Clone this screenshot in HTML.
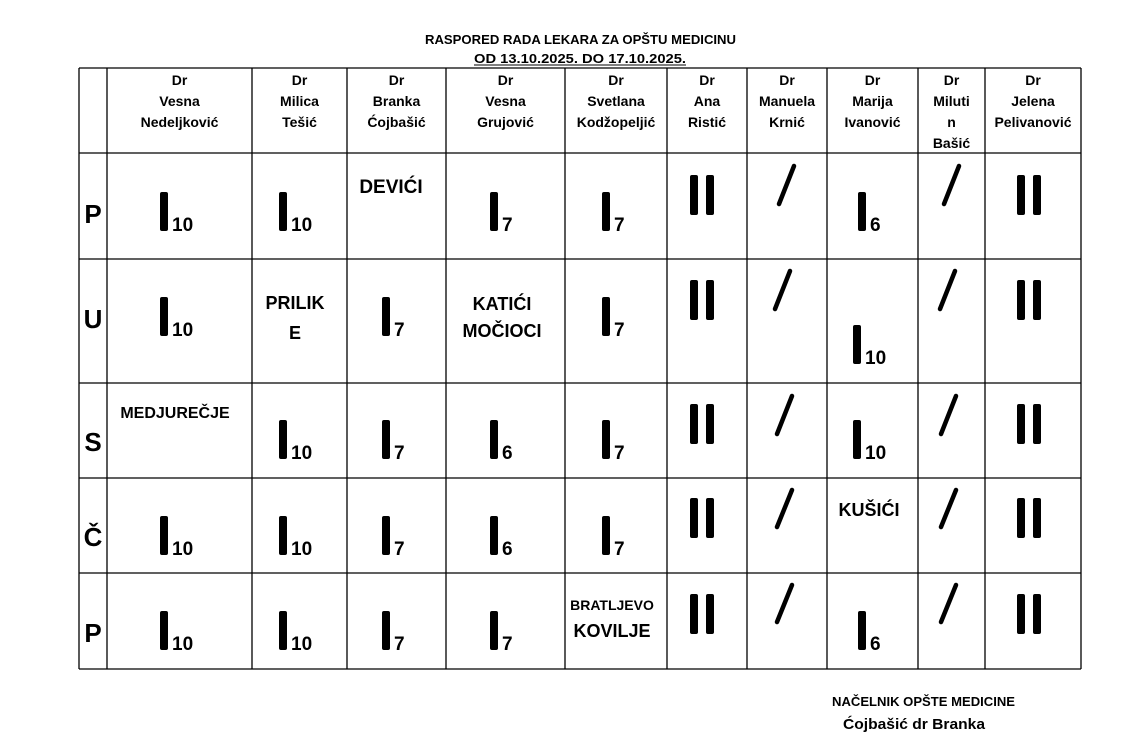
<!DOCTYPE html>
<html><head><meta charset="utf-8"><style>
html,body{margin:0;padding:0;background:#fff;}
svg{display:block;}
text{font-family:"Liberation Sans",sans-serif;font-weight:bold;fill:#000;}
</style></head><body>
<svg width="1122" height="755" viewBox="0 0 1122 755" xmlns="http://www.w3.org/2000/svg">
<rect width="1122" height="755" fill="#fff"/>
<text x="425" y="44" font-size="12.5" textLength="311" lengthAdjust="spacingAndGlyphs">RASPORED RADA LEKARA ZA OPŠTU MEDICINU</text>
<text x="474" y="63" font-size="12.5" textLength="212" lengthAdjust="spacingAndGlyphs">OD 13.10.2025.  DO 17.10.2025.</text>
<line x1="474" y1="65" x2="686" y2="65" stroke="#000" stroke-width="1"/>
<g stroke="#000" stroke-width="1.3">
<line x1="79" y1="68" x2="1081" y2="68"/><line x1="79" y1="153" x2="1081" y2="153"/><line x1="79" y1="259" x2="1081" y2="259"/><line x1="79" y1="383" x2="1081" y2="383"/><line x1="79" y1="478" x2="1081" y2="478"/><line x1="79" y1="573" x2="1081" y2="573"/><line x1="79" y1="669" x2="1081" y2="669"/>
<line x1="79" y1="68" x2="79" y2="669"/><line x1="107" y1="68" x2="107" y2="669"/><line x1="252" y1="68" x2="252" y2="669"/><line x1="347" y1="68" x2="347" y2="669"/><line x1="446" y1="68" x2="446" y2="669"/><line x1="565" y1="68" x2="565" y2="669"/><line x1="667" y1="68" x2="667" y2="669"/><line x1="747" y1="68" x2="747" y2="669"/><line x1="827" y1="68" x2="827" y2="669"/><line x1="918" y1="68" x2="918" y2="669"/><line x1="985" y1="68" x2="985" y2="669"/><line x1="1081" y1="68" x2="1081" y2="669"/>
</g>
<g font-size="14" text-anchor="middle">
<text x="179.5" y="85">Dr</text><text x="179.5" y="106">Vesna</text><text x="179.5" y="127">Nedeljković</text>
<text x="299.5" y="85">Dr</text><text x="299.5" y="106">Milica</text><text x="299.5" y="127">Tešić</text>
<text x="396.5" y="85">Dr</text><text x="396.5" y="106">Branka</text><text x="396.5" y="127">Ćojbašić</text>
<text x="505.5" y="85">Dr</text><text x="505.5" y="106">Vesna</text><text x="505.5" y="127">Grujović</text>
<text x="616" y="85">Dr</text><text x="616" y="106">Svetlana</text><text x="616" y="127">Kodžopeljić</text>
<text x="707" y="85">Dr</text><text x="707" y="106">Ana</text><text x="707" y="127">Ristić</text>
<text x="787" y="85">Dr</text><text x="787" y="106">Manuela</text><text x="787" y="127">Krnić</text>
<text x="872.5" y="85">Dr</text><text x="872.5" y="106">Marija</text><text x="872.5" y="127">Ivanović</text>
<text x="951.5" y="85">Dr</text><text x="951.5" y="106">Miluti</text><text x="951.5" y="127">n</text><text x="951.5" y="148">Bašić</text>
<text x="1033" y="85">Dr</text><text x="1033" y="106">Jelena</text><text x="1033" y="127">Pelivanović</text>
</g>
<g font-size="26" text-anchor="middle">
<text x="93" y="223">P</text><text x="93" y="328">U</text><text x="93" y="451">S</text><text x="93" y="546">Č</text><text x="93" y="642">P</text>
</g>
<g fill="#000">
<rect x="160" y="192" width="8" height="39" rx="2"/><rect x="279" y="192" width="8" height="39" rx="2"/><rect x="490" y="192" width="8" height="39" rx="2"/><rect x="602" y="192" width="8" height="39" rx="2"/><rect x="858" y="192" width="8" height="39" rx="2"/>
<rect x="160" y="297" width="8" height="39" rx="2"/><rect x="382" y="297" width="8" height="39" rx="2"/><rect x="602" y="297" width="8" height="39" rx="2"/><rect x="853" y="325" width="8" height="39" rx="2"/>
<rect x="279" y="420" width="8" height="39" rx="2"/><rect x="382" y="420" width="8" height="39" rx="2"/><rect x="490" y="420" width="8" height="39" rx="2"/><rect x="602" y="420" width="8" height="39" rx="2"/><rect x="853" y="420" width="8" height="39" rx="2"/>
<rect x="160" y="516" width="8" height="39" rx="2"/><rect x="279" y="516" width="8" height="39" rx="2"/><rect x="382" y="516" width="8" height="39" rx="2"/><rect x="490" y="516" width="8" height="39" rx="2"/><rect x="602" y="516" width="8" height="39" rx="2"/>
<rect x="160" y="611" width="8" height="39" rx="2"/><rect x="279" y="611" width="8" height="39" rx="2"/><rect x="382" y="611" width="8" height="39" rx="2"/><rect x="490" y="611" width="8" height="39" rx="2"/><rect x="858" y="611" width="8" height="39" rx="2"/>
<rect x="690" y="175" width="8" height="40" rx="2"/><rect x="706" y="175" width="8" height="40" rx="2"/><rect x="1017" y="175" width="8" height="40" rx="2"/><rect x="1033" y="175" width="8" height="40" rx="2"/>
<rect x="690" y="280" width="8" height="40" rx="2"/><rect x="706" y="280" width="8" height="40" rx="2"/><rect x="1017" y="280" width="8" height="40" rx="2"/><rect x="1033" y="280" width="8" height="40" rx="2"/>
<rect x="690" y="404" width="8" height="40" rx="2"/><rect x="706" y="404" width="8" height="40" rx="2"/><rect x="1017" y="404" width="8" height="40" rx="2"/><rect x="1033" y="404" width="8" height="40" rx="2"/>
<rect x="690" y="498" width="8" height="40" rx="2"/><rect x="706" y="498" width="8" height="40" rx="2"/><rect x="1017" y="498" width="8" height="40" rx="2"/><rect x="1033" y="498" width="8" height="40" rx="2"/>
<rect x="690" y="594" width="8" height="40" rx="2"/><rect x="706" y="594" width="8" height="40" rx="2"/><rect x="1017" y="594" width="8" height="40" rx="2"/><rect x="1033" y="594" width="8" height="40" rx="2"/>
</g>
<g stroke="#000" stroke-width="4.5" stroke-linecap="round">
<line x1="779" y1="204" x2="794" y2="166"/><line x1="944" y1="204" x2="959" y2="166"/>
<line x1="775" y1="309" x2="790" y2="271"/><line x1="940" y1="309" x2="955" y2="271"/>
<line x1="777" y1="434" x2="792" y2="396"/><line x1="941" y1="434" x2="956" y2="396"/>
<line x1="777" y1="527" x2="792" y2="490"/><line x1="941" y1="527" x2="956" y2="490"/>
<line x1="777" y1="622" x2="792" y2="585"/><line x1="941" y1="622" x2="956" y2="585"/>
</g>
<g font-size="19">
<text x="172" y="231">10</text><text x="291" y="231">10</text><text x="502" y="231">7</text><text x="614" y="231">7</text><text x="870" y="231">6</text>
<text x="172" y="336">10</text><text x="394" y="336">7</text><text x="614" y="336">7</text><text x="865" y="364">10</text>
<text x="291" y="459">10</text><text x="394" y="459">7</text><text x="502" y="459">6</text><text x="614" y="459">7</text><text x="865" y="459">10</text>
<text x="172" y="555">10</text><text x="291" y="555">10</text><text x="394" y="555">7</text><text x="502" y="555">6</text><text x="614" y="555">7</text>
<text x="172" y="650">10</text><text x="291" y="650">10</text><text x="394" y="650">7</text><text x="502" y="650">7</text><text x="870" y="650">6</text>
</g>
<g text-anchor="middle">
<text x="391" y="193" font-size="19">DEVIĆI</text>
<text x="295" y="309" font-size="18">PRILIK</text><text x="295" y="339" font-size="18">E</text>
<text x="502" y="310" font-size="18">KATIĆI</text><text x="502" y="337" font-size="18">MOČIOCI</text>
<text x="175" y="418" font-size="16">MEDJUREČJE</text>
<text x="869" y="516" font-size="18">KUŠIĆI</text>
<text x="612" y="610" font-size="14">BRATLJEVO</text><text x="612" y="637" font-size="18">KOVILJE</text>
</g>
<text x="832" y="706" font-size="12.5" textLength="183" lengthAdjust="spacingAndGlyphs">NAČELNIK OPŠTE MEDICINE</text>
<text x="843" y="729" font-size="15" textLength="142" lengthAdjust="spacingAndGlyphs">Ćojbašić dr Branka</text>
</svg>
</body></html>
